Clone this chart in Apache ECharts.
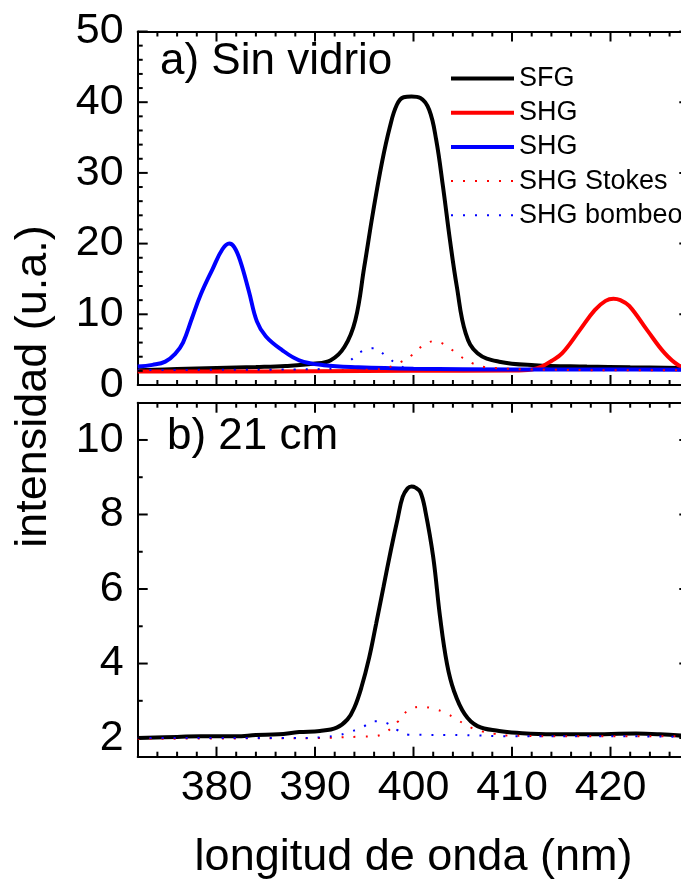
<!DOCTYPE html>
<html>
<head>
<meta charset="utf-8">
<script src="https://cdn.jsdelivr.net/npm/echarts@6/dist/echarts.min.js"></script>
<style>
html,body{margin:0;padding:0;background:#fff;}
#chart{width:681px;height:886px;}
</style>
</head>
<body>
<div id="chart"></div>
<script>
// ---------- data ----------
const xMin = 372, xMax = 428;          // wavelength range (nm)
const xMajorTicks = [380, 390, 400, 410, 420];
const xMinorStep = 2;
const topYMin = 0, topYMax = 50;
const topYMajorTicks = [0, 10, 20, 30, 40, 50];
const topYMinorStep = 2;
const botYMin = 1.5, botYMax = 11;
const botYMajorTicks = [2, 4, 6, 8, 10];
const botYMinorTicks = [3, 5, 7, 9];

// panel a) Sin vidrio  [wavelength nm, intensity u.a.]
const sfgTop = [[372,2.1],[376,2.25],[380,2.4],[384,2.55],[387,2.7],[389.8,3.0],[391.6,3.5],[393.0,5.4],[394.1,9.2],[395.0,16.7],[395.9,24.5],[396.8,31.5],[397.6,36.5],[398.3,39.6],[399.0,40.7],[399.8,40.8],[400.7,40.6],[401.6,38.9],[402.3,34.7],[403.0,28.0],[403.7,20.5],[404.4,13.9],[405.3,7.3],[406.5,4.5],[408.7,3.3],[412.3,2.8],[417.6,2.6],[422,2.5],[428,2.4]];
const shgRedTop = [[372,1.9],[380,1.9],[390,1.95],[400,2.0],[410,2.05],[412,2.2],[413,2.6],[414,3.4],[415.1,4.5],[416.9,7.8],[418.4,10.6],[419.5,11.9],[420.3,12.2],[421.0,12.0],[421.9,11.2],[423.7,7.8],[425.5,4.5],[426.9,2.8],[428,2.4]];
const shgBlueTop = [[372,2.6],[373.5,2.85],[374.8,3.3],[375.8,4.4],[376.6,6.0],[377.5,9.4],[378.4,12.8],[379.6,16.4],[380.6,19.2],[381.3,20.0],[381.8,19.5],[382.4,17.6],[383.3,13.2],[384.1,9.0],[385.0,6.9],[386.6,5.0],[388.4,3.5],[390.9,2.8],[394.4,2.5],[400,2.3],[410,2.2],[420,2.2],[428,2.15]];
const stokesTop = [[372,2.0],[380,2.05],[390,2.1],[396,2.2],[397.2,2.4],[398.5,3.1],[399.7,4.1],[400.9,5.5],[402.1,6.2],[403.3,5.6],[404.5,4.3],[405.8,3.2],[407.0,2.6],[408.2,2.4],[412,2.2],[420,2.1],[428,2.1]];
const bombeoTop = [[372,2.1],[380,2.15],[388,2.2],[392.3,2.4],[393.5,3.4],[394.8,4.8],[396.0,5.2],[397.2,4.1],[398.4,2.9],[399.6,2.3],[405,2.2],[415,2.15],[428,2.1]];

// panel b) 21 cm
const sfgBot = [[372,2.0],[376,2.03],[378.4,2.05],[382,2.05],[384,2.08],[386.3,2.1],[388.4,2.16],[390.5,2.19],[392.2,2.28],[393.3,2.5],[394.0,2.82],[394.7,3.35],[395.5,4.16],[396.2,5.06],[396.95,6.05],[397.7,7.04],[398.4,7.9],[398.9,8.47],[399.4,8.7],[399.8,8.75],[400.2,8.72],[400.7,8.6],[401.2,8.1],[402.0,6.86],[402.7,5.24],[403.4,3.99],[404.1,3.27],[405.2,2.64],[406.5,2.32],[408.7,2.19],[410.5,2.14],[414.1,2.1],[417.6,2.1],[422.6,2.12],[425,2.1],[428,2.05]];
const stokesBot = [[372,1.98],[380,1.99],[390,2.0],[394.8,2.04],[396.0,2.05],[397.2,2.16],[398.4,2.44],[399.5,2.75],[400.8,2.84],[402.0,2.79],[403.2,2.68],[404.4,2.5],[405.6,2.31],[406.8,2.19],[408.1,2.12],[409.3,2.07],[415,2.05],[428,2.05]];
const bombeoBot = [[372,2.0],[388.7,2.0],[391,2.03],[392.4,2.08],[393.5,2.16],[394.8,2.29],[396.0,2.45],[397.2,2.41],[398.4,2.21],[399.6,2.09],[405,2.08],[410,2.05],[420,2.05],[428,2.03]];

const legendNames = ['SFG', 'SHG', 'SHG ', 'SHG Stokes', 'SHG bombeo'];

// ---------- chart ----------
const FONT = "'Liberation Sans', Arial, sans-serif";
const BLACK = '#000000', RED = '#ff0000', BLUE = '#0000ff';
const MAJOR_LEN = 10, MINOR_LEN = 5;

// tick tables: [value, isMajor]
const xTickData = xMajorTicks.map(v => [v, 1]);
for (let v = xMin + xMinorStep; v < xMax; v += xMinorStep) {
  if (xMajorTicks.indexOf(v) < 0) xTickData.push([v, 0]);
}
const topYTickData = topYMajorTicks.map(v => [v, 1]);
for (let v = topYMin + topYMinorStep; v < topYMax; v += topYMinorStep) {
  if (topYMajorTicks.indexOf(v) < 0) topYTickData.push([v, 0]);
}
const botYTickData = botYMajorTicks.map(v => [v, 1]).concat(botYMinorTicks.map(v => [v, 0]));

const line = { show: true, onZero: false, lineStyle: { color: BLACK, width: 2 } };
const noLabel = { show: false };

function xAxis(grid, pos, withLabel) {
  const ax = {
    type: 'value', gridIndex: grid, position: pos, min: xMin, max: xMax,
    minInterval: 10, maxInterval: 10,
    axisLine: line, axisTick: { show: false },
    axisLabel: withLabel ? { show: true, showMinLabel: false, showMaxLabel: false, margin: 10,
      fontSize: 43, fontFamily: FONT, color: BLACK } : noLabel,
    splitLine: { show: false }
  };
  return ax;
}
function yAxis(grid, pos, min, max, step, withLabel, edgeLabels) {
  return {
    type: 'value', gridIndex: grid, position: pos, min: min, max: max,
    minInterval: step, maxInterval: step,
    axisLine: line, axisTick: { show: false },
    axisLabel: withLabel ? { show: true, showMinLabel: edgeLabels, showMaxLabel: edgeLabels, margin: 14,
      fontSize: 43, fontFamily: FONT, color: BLACK } : noLabel,
    splitLine: { show: false }
  };
}

const xAxes = [
  xAxis(0, 'bottom', false),  // 0
  xAxis(0, 'top', false),     // 1
  xAxis(1, 'bottom', true),   // 2
  xAxis(1, 'top', false)      // 3
];
xAxes[2].name = 'longitud de onda (nm)';
xAxes[2].nameLocation = 'middle';
xAxes[2].nameGap = 101;
xAxes[2].nameTextStyle = { fontSize: 45, fontFamily: FONT, color: BLACK, verticalAlign: 'middle' };

const yAxes = [
  yAxis(0, 'left', topYMin, topYMax, 10, true, true),    // 0
  yAxis(0, 'right', topYMin, topYMax, 10, false, false), // 1
  yAxis(1, 'left', botYMin, botYMax, 2, true, false),    // 2
  yAxis(1, 'right', botYMin, botYMax, 2, false, false)   // 3
];

function ser(name, data, color, xi, yi, dotted) {
  return {
    type: 'line', name: name, data: data, xAxisIndex: xi, yAxisIndex: yi,
    symbol: 'none', showSymbol: false, smooth: 0.4,
    lineStyle: dotted ? { color: color, width: 2, type: [2, 10] } : { color: color, width: 4 },
    itemStyle: { color: color },
    emphasis: { disabled: true }, silent: true
  };
}

const tickStyle = { stroke: BLACK, lineWidth: 2 };
// inward ticks on bottom and top edges of a panel
function xTickSeries(xi, yi, yMin, yMax) {
  return {
    type: 'custom', name: 'xticks', xAxisIndex: xi, yAxisIndex: yi, data: xTickData,
    silent: true, clip: false, z: 5, encode: { x: 0 },
    renderItem: function (params, api) {
      const v = api.value(0), len = api.value(1) ? MAJOR_LEN : MINOR_LEN;
      const b = api.coord([v, yMin]), t = api.coord([v, yMax]);
      return { type: 'group', children: [
        { type: 'line', shape: { x1: b[0], y1: b[1], x2: b[0], y2: b[1] - len }, style: tickStyle },
        { type: 'line', shape: { x1: t[0], y1: t[1], x2: t[0], y2: t[1] + len }, style: tickStyle }
      ] };
    }
  };
}
// inward ticks on left edge (major+minor) and right edge (major only)
function yTickSeries(xi, yi, tickData) {
  return {
    type: 'custom', name: 'yticks', xAxisIndex: xi, yAxisIndex: yi, data: tickData,
    silent: true, clip: false, z: 5, encode: { y: 0 },
    renderItem: function (params, api) {
      const v = api.value(0), major = api.value(1);
      const len = major ? MAJOR_LEN : MINOR_LEN;
      const l = api.coord([xMin, v]), r = api.coord([xMax, v]);
      const children = [{ type: 'line', shape: { x1: l[0], y1: l[1], x2: l[0] + len, y2: l[1] }, style: tickStyle }];
      if (major) children.push({ type: 'line', shape: { x1: r[0], y1: r[1], x2: r[0] - len, y2: r[1] }, style: tickStyle });
      return { type: 'group', children: children };
    }
  };
}

const option = {
  animation: false,
  backgroundColor: '#ffffff',
  grid: [
    { left: 137.7, top: 31.5, width: 551.6, height: 353.5, outerBoundsMode: 'none', containLabel: false },
    { left: 137.7, top: 402.7, width: 551.6, height: 354, outerBoundsMode: 'none', containLabel: false }
  ],
  xAxis: xAxes,
  yAxis: yAxes,
  legend: {
    data: legendNames, orient: 'vertical', left: 444, top: 60,
    itemWidth: 63, itemHeight: 14, itemGap: 7.2, selectedMode: false,
    lineStyle: { width: 'inherit' },
    itemStyle: { color: 'rgba(0,0,0,0)', borderColor: 'rgba(0,0,0,0)', borderWidth: 0 },
    textStyle: { fontSize: 27, lineHeight: 27, fontFamily: FONT, color: BLACK }
  },
  graphic: [
    { type: 'text', x: 160, y: 62, style: { text: 'a) Sin vidrio', fontSize: 44, fontFamily: FONT, fill: BLACK, align: 'left', verticalAlign: 'middle' } },
    { type: 'text', x: 167, y: 437, style: { text: 'b) 21 cm', fontSize: 44, fontFamily: FONT, fill: BLACK, align: 'left', verticalAlign: 'middle' } },
    { type: 'text', x: 34, y: 386.5, rotation: Math.PI / 2, style: { text: 'intensidad (u.a.)', fontSize: 45, fontFamily: FONT, fill: BLACK, align: 'center', verticalAlign: 'middle' } }
  ],
  series: [
    ser('SFG', sfgTop, BLACK, 0, 0, false),
    ser('SHG', shgRedTop, RED, 0, 0, false),
    ser('SHG ', shgBlueTop, BLUE, 0, 0, false),
    ser('SHG Stokes', stokesTop, RED, 0, 0, true),
    ser('SHG bombeo', bombeoTop, BLUE, 0, 0, true),
    ser('SFG', sfgBot, BLACK, 2, 2, false),
    ser('SHG Stokes', stokesBot, RED, 2, 2, true),
    ser('SHG bombeo', bombeoBot, BLUE, 2, 2, true),
    xTickSeries(0, 0, topYMin, topYMax),
    yTickSeries(0, 0, topYTickData),
    xTickSeries(2, 2, botYMin, botYMax),
    yTickSeries(2, 2, botYTickData)
  ]
};

const chart = echarts.init(document.getElementById('chart'), null, { renderer: 'canvas' });
chart.setOption(option);
</script>
</body>
</html>
